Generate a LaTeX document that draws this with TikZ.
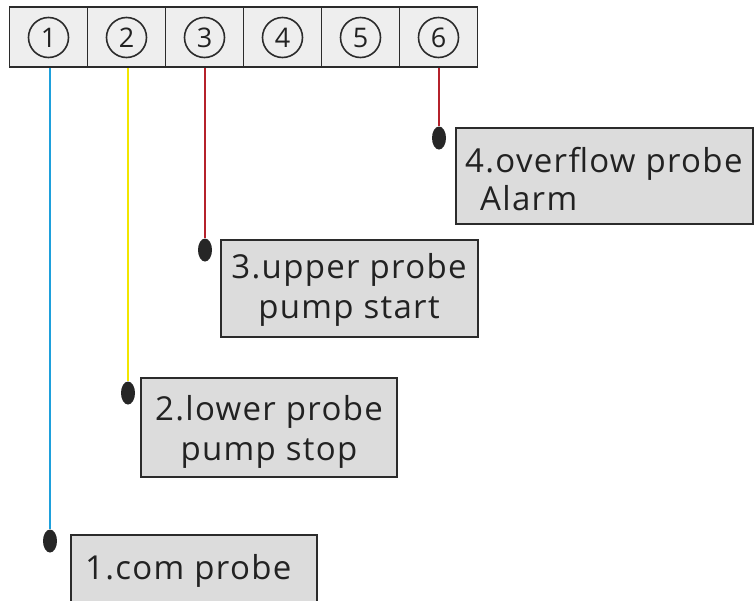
\documentclass[tikz,border=0pt]{standalone}
\usepackage{fontspec}
\setmainfont{Open Sans}
\usetikzlibrary{shapes.geometric}
\definecolor{cellfill}{HTML}{EEEEEE}
\definecolor{boxfill}{HTML}{DCDCDC}
\definecolor{edge}{HTML}{2B2B2B}
\definecolor{ink}{HTML}{222222}
\definecolor{wblue}{HTML}{1EA0DC}
\definecolor{wyellow}{HTML}{F2E600}
\definecolor{wred}{HTML}{B5212B}
\newcommand{\lblfont}{\fontsize{33}{40}\selectfont\addfontfeatures{LetterSpace=4}}
\tikzset{
  cell/.style={draw=edge, fill=cellfill, line width=1.7pt, minimum width=78pt, minimum height=60pt, inner sep=0pt},
  num/.style={draw=edge, circle, line width=1.6pt, minimum size=40pt, inner sep=0pt, text=ink, font=\fontsize{27}{27}\selectfont},
  dot/.style={ellipse, fill=black!85, minimum width=14pt, minimum height=23pt, inner sep=0pt},
  wire/.style={line width=1.8pt},
  lbox/.style={draw=edge, fill=boxfill, line width=2pt, inner sep=0pt},
  lbl/.style={inner sep=0pt, text=ink, font=\lblfont}
}
\begin{document}
\begin{tikzpicture}[x=1pt,y=-1pt]
\useasboundingbox (0,0) rectangle (755,600);
\foreach \i in {1,...,6}{
  \node[cell] (c\i) at ({9.5+78*(\i-1)+39},37) {};
  \node[num] (k\i) at ([yshift=-0.5pt]c\i.center) {\i};
}
% dots
\node[dot] (d1) at (50,541) {};
\node[dot] (d2) at (128,393) {};
\node[dot] (d3) at (205,250) {};
\node[dot] (d4) at (439,138) {};
% wires
\draw[wire, wblue] (c1.south -| d1) -- (d1.north);
\draw[wire, wyellow] (c2.south -| d2) -- (d2.north);
\draw[wire, wred] (c3.south -| d3) -- (d3.north);
\draw[wire, wred] (c6.south -| d4) -- (d4.north);
% boxes
\node[lbox, minimum width=246pt, minimum height=80pt, anchor=north west] (b1) at (70,534) {};
\node[lbl, anchor=base west] (t1) at (85,579) {1.com probe};
\node[lbox, minimum width=256pt, minimum height=99pt] (b2) at (269,427.5) {};
\node[lbl, anchor=base] (t2a) at (269,420) {2.lower probe};
\node[lbl, anchor=base] (t2b) at (269,460) {pump stop};
\node[lbox, minimum width=257pt, minimum height=97pt] (b3) at (349.5,288.5) {};
\node[lbl, anchor=base] (t3a) at (349,278) {3.upper probe};
\node[lbl, anchor=base] (t3b) at (349,318) {pump start};
\node[lbox, minimum width=297pt, minimum height=96pt, anchor=north west] (b4) at (455,127) {};
\node[lbl, anchor=base west] (t4a) at (465,172) {4.overflow probe};
\node[lbl, anchor=base west] (t4b) at (480,210) {Alarm};
\end{tikzpicture}
\end{document}
